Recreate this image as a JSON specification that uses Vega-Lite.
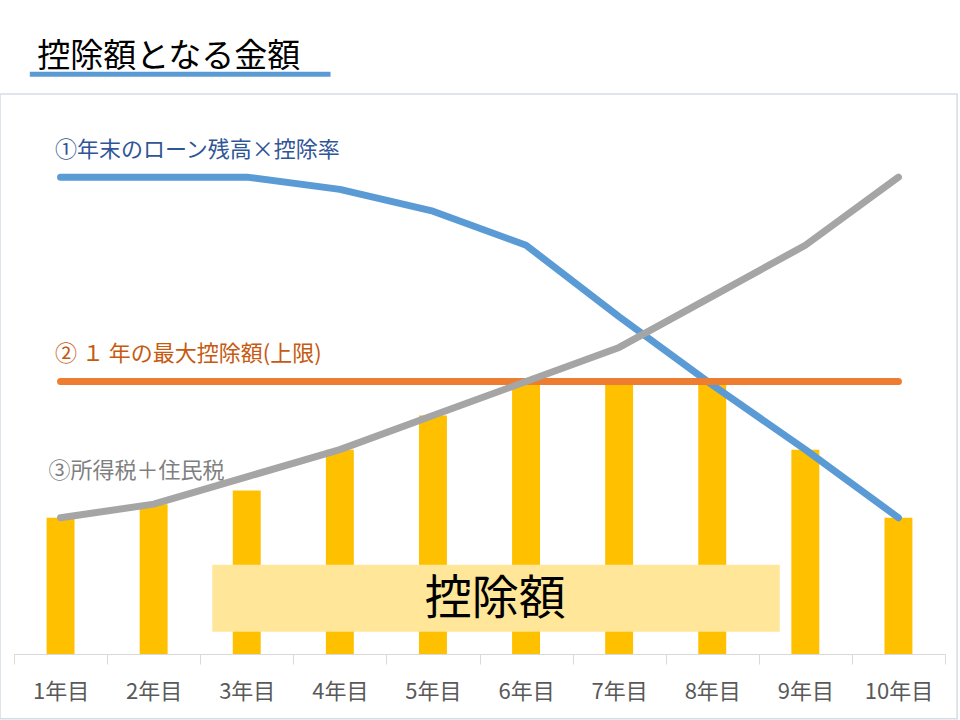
{
  "$schema": "https://vega.github.io/schema/vega-lite/v6.json",
  "width": 931,
  "height": 545,
  "autosize": {"type": "none"},
  "padding": {"left": 14, "top": 109, "right": 15, "bottom": 66},
  "background": "white",
  "config": {
    "view": {"stroke": null},
    "font": "Noto Sans CJK JP"
  },
  "datasets": {
    "bars": [
      {"year": "1年目", "amount": 2.0},
      {"year": "2年目", "amount": 2.2},
      {"year": "3年目", "amount": 2.4},
      {"year": "4年目", "amount": 3.0},
      {"year": "5年目", "amount": 3.5},
      {"year": "6年目", "amount": 4.0},
      {"year": "7年目", "amount": 4.0},
      {"year": "8年目", "amount": 4.0},
      {"year": "9年目", "amount": 3.0},
      {"year": "10年目", "amount": 2.0}
    ],
    "lines": [
      {"year": "1年目", "series": "balance", "value": 7.0},
      {"year": "2年目", "series": "balance", "value": 7.0},
      {"year": "3年目", "series": "balance", "value": 7.0},
      {"year": "4年目", "series": "balance", "value": 6.82},
      {"year": "5年目", "series": "balance", "value": 6.5},
      {"year": "6年目", "series": "balance", "value": 6.0},
      {"year": "7年目", "series": "balance", "value": 4.95},
      {"year": "8年目", "series": "balance", "value": 3.95},
      {"year": "9年目", "series": "balance", "value": 3.0},
      {"year": "10年目", "series": "balance", "value": 2.0},
      {"year": "1年目", "series": "cap", "value": 4.0},
      {"year": "2年目", "series": "cap", "value": 4.0},
      {"year": "3年目", "series": "cap", "value": 4.0},
      {"year": "4年目", "series": "cap", "value": 4.0},
      {"year": "5年目", "series": "cap", "value": 4.0},
      {"year": "6年目", "series": "cap", "value": 4.0},
      {"year": "7年目", "series": "cap", "value": 4.0},
      {"year": "8年目", "series": "cap", "value": 4.0},
      {"year": "9年目", "series": "cap", "value": 4.0},
      {"year": "10年目", "series": "cap", "value": 4.0},
      {"year": "1年目", "series": "tax", "value": 2.0},
      {"year": "2年目", "series": "tax", "value": 2.2},
      {"year": "3年目", "series": "tax", "value": 2.6},
      {"year": "4年目", "series": "tax", "value": 3.0},
      {"year": "5年目", "series": "tax", "value": 3.5},
      {"year": "6年目", "series": "tax", "value": 4.0},
      {"year": "7年目", "series": "tax", "value": 4.5},
      {"year": "8年目", "series": "tax", "value": 5.25},
      {"year": "9年目", "series": "tax", "value": 6.0},
      {"year": "10年目", "series": "tax", "value": 7.0}
    ],
    "frame": [{"x": -0.15, "x2": 10.13, "y": 8.22, "y2": -0.95}],
    "box": [{"x": 2.13, "x2": 8.225, "y": 1.31, "y2": 0.325, "label": "控除額", "cx": 5.17, "cy": 0.8}],
    "labels": [
      {"x": 0.44, "y": 7.4, "text": "①年末のローン残高×控除率", "series": "balance"},
      {"x": 0.44, "y": 4.4, "text": "② １ 年の最大控除額(上限)", "series": "cap"},
      {"x": 0.37, "y": 2.68, "text": "③所得税＋住民税", "series": "tax"}
    ],
    "title": [{"x": 0.25, "y": 8.76, "x1": 0.17, "x2": 3.4, "yl": 8.51, "text": "控除額となる金額"}]
  },
  "resolve": {"scale": {"x": "independent", "color": "independent"}},
  "layer": [
    {
      "data": {"name": "frame"},
      "mark": {"type": "rect", "fill": null, "stroke": "#D6DCE5", "strokeWidth": 1.5},
      "encoding": {
        "x": {"field": "x", "type": "quantitative", "scale": {"domain": [0, 10], "nice": false, "zero": false}, "axis": null},
        "x2": {"field": "x2"},
        "y": {"field": "y", "type": "quantitative", "scale": {"domain": [0, 8], "nice": false}, "axis": null},
        "y2": {"field": "y2"}
      }
    },
    {
      "data": {"name": "bars"},
      "mark": {"type": "bar", "color": "#FFC000", "width": {"band": 0.3}},
      "encoding": {
        "x": {
          "field": "year", "type": "ordinal", "sort": null,
          "scale": {"type": "band", "paddingInner": 0, "paddingOuter": 0},
          "axis": {
            "title": null, "labelAngle": 0, "labelFontSize": 22, "labelColor": "#595959",
            "labelPadding": 17, "domainColor": "#D9D9D9", "tickColor": "#D9D9D9",
            "tickSize": 10, "tickBand": "extent", "grid": false, "labelFont": "Noto Sans CJK JP"
          }
        },
        "y": {
          "field": "amount", "type": "quantitative",
          "scale": {"domain": [0, 8], "nice": false},
          "axis": {"title": null, "labels": false, "ticks": false, "domain": false, "grid": true, "gridColor": "#D9D9D9", "values": [1, 2, 3, 4, 5, 6, 7, 8]}
        }
      }
    },
    {
      "data": {"name": "box"},
      "layer": [
        {
          "mark": {"type": "rect", "color": "#FFE699"},
          "encoding": {
            "x": {"field": "x", "type": "quantitative", "scale": {"domain": [0, 10], "nice": false, "zero": false}, "axis": null},
            "x2": {"field": "x2"},
            "y": {"field": "y", "type": "quantitative", "scale": {"domain": [0, 8], "nice": false}, "axis": null},
            "y2": {"field": "y2"}
          }
        },
        {
          "mark": {"type": "text", "fontSize": 47, "color": "#000000", "align": "center", "baseline": "middle"},
          "encoding": {
            "x": {"field": "cx", "type": "quantitative", "scale": {"domain": [0, 10], "nice": false, "zero": false}, "axis": null},
            "y": {"field": "cy", "type": "quantitative", "scale": {"domain": [0, 8], "nice": false}, "axis": null},
            "text": {"field": "label"}
          }
        }
      ]
    },
    {
      "data": {"name": "lines"},
      "mark": {"type": "line", "strokeWidth": 7, "strokeCap": "round", "strokeJoin": "round"},
      "encoding": {
        "x": {"field": "year", "type": "ordinal", "sort": null, "scale": {"type": "point", "padding": 0.5}, "axis": null},
        "y": {"field": "value", "type": "quantitative", "scale": {"domain": [0, 8], "nice": false}, "axis": null},
        "detail": {"field": "series"},
        "color": {
          "field": "series", "type": "nominal",
          "scale": {"domain": ["balance", "cap", "tax"], "range": ["#5B9BD5", "#ED7D31", "#A5A5A5"]},
          "legend": null
        }
      }
    },
    {
      "data": {"name": "labels"},
      "mark": {"type": "text", "fontSize": 22, "align": "left", "baseline": "middle"},
      "encoding": {
        "x": {"field": "x", "type": "quantitative", "scale": {"domain": [0, 10], "nice": false, "zero": false}, "axis": null},
        "y": {"field": "y", "type": "quantitative", "scale": {"domain": [0, 8], "nice": false}, "axis": null},
        "text": {"field": "text"},
        "color": {
          "field": "series", "type": "nominal",
          "scale": {"domain": ["balance", "cap", "tax"], "range": ["#2F5597", "#C55A11", "#7F7F7F"]},
          "legend": null
        }
      }
    },
    {
      "data": {"name": "title"},
      "layer": [
        {
          "mark": {"type": "rule", "color": "#5B9BD5", "strokeWidth": 5},
          "encoding": {
            "x": {"field": "x1", "type": "quantitative", "scale": {"domain": [0, 10], "nice": false, "zero": false}, "axis": null},
            "x2": {"field": "x2"},
            "y": {"field": "yl", "type": "quantitative", "scale": {"domain": [0, 8], "nice": false}, "axis": null}
          }
        },
        {
          "mark": {"type": "text", "fontSize": 33, "color": "#000000", "align": "left", "baseline": "middle"},
          "encoding": {
            "x": {"field": "x", "type": "quantitative", "scale": {"domain": [0, 10], "nice": false, "zero": false}, "axis": null},
            "y": {"field": "y", "type": "quantitative", "scale": {"domain": [0, 8], "nice": false}, "axis": null},
            "text": {"field": "text"}
          }
        }
      ]
    }
  ]
}
